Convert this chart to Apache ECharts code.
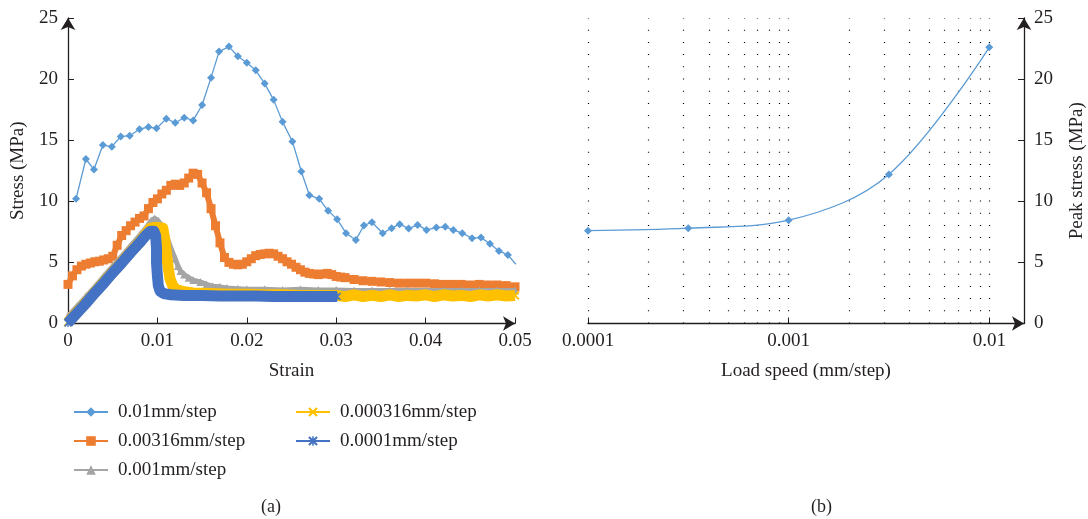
<!DOCTYPE html>
<html>
<head>
<meta charset="utf-8">
<title>Stress-strain</title>
<style>
    html, body { margin: 0; padding: 0; background: #fff; }
    #main { width: 1088px; height: 519px; }
</style>
</head>
<body>
<div id="main"></div>
<script src="https://cdn.jsdelivr.net/npm/echarts@6/dist/echarts.min.js"></script>
<script type="text/javascript">
// (a) stress-strain curves, [strain, stress MPa]
var curve001 = [[0.0009,10.2],[0.0020,13.46],[0.0029,12.6],[0.0039,14.6],[0.0049,14.47],[0.0059,15.3],[0.0069,15.37],[0.0080,15.9],[0.0090,16.08],[0.0099,15.97],[0.0110,16.76],[0.0120,16.43],[0.0130,16.84],[0.0140,16.62],[0.0150,17.88],[0.0160,20.12],[0.0169,22.25],[0.0180,22.66],[0.0190,21.87],[0.0200,21.33],[0.0210,20.72],[0.0220,19.63],[0.0230,18.3],[0.0240,16.5],[0.0251,14.9],[0.0261,12.44],[0.0270,10.5],[0.0281,10.2],[0.0291,9.22],[0.0301,8.54],[0.0311,7.39],[0.0322,6.84],[0.0331,8.02],[0.0340,8.29],[0.0352,7.39],[0.0362,7.8],[0.0371,8.13],[0.0381,7.77],[0.0391,8.07],[0.0401,7.66],[0.0412,7.85],[0.0422,7.91],[0.0431,7.66],[0.0441,7.39],[0.0452,6.98],[0.0462,7.03],[0.0472,6.52],[0.0482,5.94],[0.0492,5.61],[0.0501,4.85]];

var curve000316a = [[0,3.2],[0.0005,3.9],[0.001,4.4],[0.0015,4.7],[0.002,4.85],[0.0025,4.95],[0.003,5.05],[0.0035,5.1],[0.004,5.2],[0.0045,5.3],[0.005,5.5],[0.0055,6.4],[0.006,7.2],[0.0065,7.6],[0.007,8.0],[0.0075,8.3],[0.008,8.6],[0.0085,8.8],[0.009,9.4],[0.0095,9.9],[0.010,10.2],[0.0105,10.6],[0.011,10.9],[0.0115,11.3],[0.012,11.4],[0.0125,11.3],[0.013,11.5],[0.0135,11.9],[0.014,12.3],[0.0145,12.2],[0.015,11.5],[0.0155,10.7],[0.016,9.4],[0.0165,8.0],[0.017,6.6],[0.0175,5.4],[0.018,5.0],[0.0185,4.85],[0.019,4.8],[0.0195,4.85],[0.020,5.05],[0.0205,5.3],[0.021,5.55],[0.0215,5.65],[0.022,5.7],[0.0225,5.75],[0.023,5.7],[0.0235,5.5],[0.024,5.3],[0.0245,5.05],[0.025,4.85],[0.0255,4.6],[0.026,4.4],[0.0265,4.2],[0.027,4.1],[0.0275,4.05],[0.028,4.0],[0.0285,4.05],[0.029,4.1],[0.0295,4.0],[0.030,3.85],[0.0305,3.8],[0.031,3.75],[0.032,3.6],[0.033,3.5],[0.034,3.45],[0.035,3.4],[0.036,3.35],[0.037,3.3],[0.038,3.3],[0.039,3.3],[0.040,3.3],[0.041,3.25],[0.042,3.2],[0.043,3.2],[0.044,3.2],[0.045,3.15],[0.046,3.2],[0.047,3.15],[0.048,3.15],[0.049,3.1],[0.050,3.0]];

var curve0001a = [[0,0.6],[0.001,1.4],[0.002,2.2],[0.003,3.0],[0.004,3.85],[0.005,4.7],[0.006,5.5],[0.007,6.35],[0.008,7.2],[0.0088,7.9],[0.0093,8.4],[0.0097,8.6],[0.0101,8.4],[0.0105,8.0],[0.0108,7.6],[0.0111,7.0],[0.0114,6.4],[0.0117,5.8],[0.012,5.3],[0.0123,4.7],[0.0126,4.3],[0.013,4.0],[0.0135,3.75],[0.014,3.55],[0.0148,3.4],[0.0155,3.2],[0.0162,3.05],[0.017,3.0],[0.0178,2.9],[0.019,2.85],[0.020,2.8],[0.022,2.8],[0.024,2.75],[0.026,2.8],[0.028,2.75],[0.030,2.75],[0.032,2.7],[0.034,2.7],[0.036,2.7],[0.038,2.7],[0.040,2.7],[0.042,2.7],[0.044,2.7],[0.046,2.7],[0.048,2.7],[0.050,2.7]];

var curve0000316 = [[0,0.1],[0.001,0.9],[0.002,1.7],[0.003,2.55],[0.004,3.35],[0.005,4.2],[0.006,5.0],[0.007,5.85],[0.008,6.65],[0.0088,7.4],[0.0092,7.8],[0.0097,7.85],[0.0102,7.85],[0.0106,7.8],[0.0108,7.0],[0.0110,5.8],[0.0112,4.6],[0.0114,3.7],[0.0117,3.1],[0.012,2.85],[0.0125,2.7],[0.013,2.6],[0.014,2.5],[0.016,2.45],[0.018,2.4],[0.020,2.4],[0.022,2.35],[0.024,2.35],[0.026,2.3],[0.028,2.3],[0.030,2.3],[0.031,2.2],[0.032,2.35],[0.033,2.2],[0.034,2.3],[0.035,2.2],[0.036,2.35],[0.037,2.2],[0.038,2.3],[0.039,2.25],[0.040,2.35],[0.041,2.2],[0.042,2.35],[0.043,2.25],[0.044,2.3],[0.045,2.2],[0.046,2.35],[0.047,2.25],[0.048,2.35],[0.049,2.25],[0.050,2.3]];

var curve00001 = [[0,0.05],[0.001,0.85],[0.002,1.65],[0.003,2.5],[0.004,3.3],[0.005,4.15],[0.006,4.95],[0.007,5.8],[0.008,6.6],[0.0087,7.2],[0.0092,7.55],[0.0096,7.55],[0.0098,7.2],[0.0099,6.2],[0.0099,5.0],[0.0100,3.9],[0.0101,3.1],[0.0103,2.65],[0.0107,2.45],[0.0115,2.35],[0.013,2.3],[0.015,2.3],[0.017,2.25],[0.019,2.25],[0.021,2.25],[0.023,2.2],[0.025,2.2],[0.027,2.2],[0.029,2.2],[0.0301,2.2]];

// (b) peak stress vs load speed
var loadSpeed = [0.0001, 0.000316, 0.001, 0.00316, 0.01];
var peakStress = [7.6, 7.8, 8.45, 12.2, 22.6];
// dotted grid columns on the log axis
var gridSpeeds = [0.0001,0.0002,0.0003,0.0004,0.0005,0.0006,0.0007,0.0008,0.0009,0.001,0.002,0.003,0.004,0.005,0.006,0.007,0.008,0.009,0.01];

var names = ['0.01mm/step', '0.00316mm/step', '0.001mm/step', '0.000316mm/step', '0.0001mm/step'];
var colors = ['#5B9BD5', '#ED7D31', '#A5A5A5', '#FFC000', '#4472C4'];

var ink = '#231f20';
var font = 'Liberation Serif';
var xMark = 'path://M0,1.5 L1.5,0 L5,3.5 L8.5,0 L10,1.5 L6.5,5 L10,8.5 L8.5,10 L5,6.5 L1.5,10 L0,8.5 L3.5,5 Z';
var starMark = 'path://M0,1.5 L1.5,0 L5,3.5 L8.5,0 L10,1.5 L6.5,5 L10,8.5 L8.5,10 L5,6.5 L1.5,10 L0,8.5 L3.5,5 Z M4.2,0 L5.8,0 L5.8,10 L4.2,10 Z';

function axisLine(){
    return {
        lineStyle: {color: ink, width: 1.3},
        symbol: ['none', 'arrow'],
        symbolSize: [11, 12],
        symbolOffset: [0, 0]
    };
}
var tick = {inside: true, length: 6, lineStyle: {color: ink, width: 1}};
var lab = {color: ink, fontSize: 19, fontFamily: font};
var nameStyle = {color: ink, fontSize: 19, fontFamily: font};
var legendText = {color: ink, fontSize: 19, fontFamily: font, lineHeight: 20, padding: [0, 0, 0, 5]};

var myChart = echarts.init(document.getElementById('main'));
var option = {
    backgroundColor: '#fff',
    animation: false,
    title: [
        {text: '(a)', left: 256, top: 493, textStyle: {color: ink, fontSize: 18, fontFamily: font, fontWeight: 'normal'}},
        {text: '(b)', left: 806, top: 493, textStyle: {color: ink, fontSize: 18, fontFamily: font, fontWeight: 'normal'}}
    ],
    legend: [{
        left: 68, top: 397, orient: 'vertical',
        itemWidth: 34, itemHeight: 12, itemGap: 9,
        lineStyle: {width: 2},
        textStyle: legendText,
        data: names.slice(0, 3)
    }, {
        left: 290, top: 397, orient: 'vertical',
        itemWidth: 34, itemHeight: 12, itemGap: 9,
        lineStyle: {width: 2},
        textStyle: legendText,
        data: names.slice(3)
    }],
    grid: [
        {left: 68, top: 18, width: 447, height: 305.5},
        {left: 588, top: 18, width: 437, height: 305.5}
    ],
    xAxis: [{
        gridIndex: 0, type: 'value', min: 0, max: 0.05, interval: 0.01,
        axisLine: axisLine(), axisTick: tick,
        axisLabel: Object.assign({margin: 8}, lab),
        splitLine: {show: false},
        name: 'Strain', nameLocation: 'middle', nameGap: 38, nameTextStyle: nameStyle
    }, {
        gridIndex: 1, type: 'log', logBase: 10, min: 0.0001, max: 0.0149,
        axisLine: axisLine(), axisTick: tick,
        axisLabel: Object.assign({margin: 8, showMaxLabel: false, formatter: function(v){ return String(v); }}, lab),
        splitLine: {show: false}, minorTick: {show: false},
        name: 'Load speed (mm/step)', nameLocation: 'middle', nameGap: 38, nameTextStyle: nameStyle
    }],
    yAxis: [{
        gridIndex: 0, type: 'value', min: 0, max: 25, interval: 5,
        axisLine: axisLine(), axisTick: tick,
        axisLabel: Object.assign({margin: 10}, lab),
        splitLine: {show: false},
        name: 'Stress (MPa)', nameLocation: 'middle', nameRotate: 90, nameGap: 40, nameTextStyle: nameStyle
    }, {
        gridIndex: 1, type: 'value', position: 'right', min: 0, max: 25, interval: 5,
        axisLine: axisLine(), axisTick: tick,
        axisLabel: Object.assign({margin: 10}, lab),
        splitLine: {show: false},
        name: 'Peak stress (MPa)', nameLocation: 'middle', nameRotate: 90, nameGap: 44, nameTextStyle: nameStyle
    }],
    series: [{
        name: names[0], type: 'line', data: curve001, z: 2,
        color: colors[0], symbol: 'diamond', symbolSize: 8,
        lineStyle: {width: 1.3}
    }, {
        name: names[1], type: 'line', data: curve000316a, z: 3,
        color: colors[1], symbol: 'rect', symbolSize: 9,
        lineStyle: {width: 6, join: 'round'}
    }, {
        name: names[2], type: 'line', data: curve0001a, z: 4,
        color: colors[2], symbol: 'triangle', symbolSize: 8,
        lineStyle: {width: 5, join: 'round'}
    }, {
        name: names[3], type: 'line', data: curve0000316, z: 5,
        color: colors[3], symbol: xMark, symbolSize: 9,
        lineStyle: {width: 11, join: 'round'}
    }, {
        name: names[4], type: 'line', data: curve00001, z: 6,
        color: colors[4], symbol: starMark, symbolSize: 8,
        lineStyle: {width: 11, join: 'round'}
    }, {
        name: 'Peak stress', type: 'line', xAxisIndex: 1, yAxisIndex: 1, z: 3,
        data: loadSpeed.map(function(s, i){ return [s, peakStress[i]]; }),
        color: colors[0], symbol: 'diamond', symbolSize: 8, smooth: 0.35,
        lineStyle: {width: 1.3},
        markLine: {
            silent: true, symbol: ['none', 'none'], label: {show: false}, z: 1,
            lineStyle: {color: '#000', width: 1.2, type: [1, 11.2]},
            data: gridSpeeds.map(function(s){ return [{coord: [s, 0]}, {coord: [s, 25]}]; })
        }
    }]
};
myChart.setOption(option);
</script>
</body>
</html>
